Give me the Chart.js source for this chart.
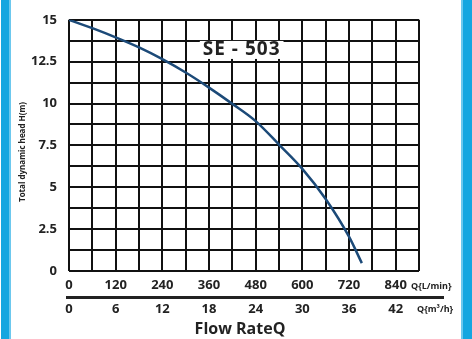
<!DOCTYPE html>
<html><head><meta charset="utf-8">
<script src="https://cdn.jsdelivr.net/npm/chart.js@4"></script>
<style>html,body{margin:0;padding:0;background:#fff}canvas{display:block}</style>
</head><body><canvas id="c" width="472" height="339"></canvas>
<script>
const flowLpm = [0, 60, 120, 180, 240, 300, 360, 420, 480, 540, 600, 660, 720, 753];
const headM   = [15, 14.5, 13.95, 13.35, 12.65, 11.85, 10.95, 9.98, 8.95, 7.55, 6.1, 4.3, 2.05, 0.47];
const lpmTicks = [0, 120, 240, 360, 480, 600, 720, 840];
const m3hTicks = ['0', '6', '12', '18', '24', '30', '36', '42'];
const headTicks = [0, 2.5, 5, 7.5, 10, 12.5, 15];
const chartTitle = 'SE - 503';
const yTitle = 'Total dynamic head H(m)';
const xTitle = 'Flow RateQ';
const unitLpm = 'Q{L/min}';
const unitM3h = 'Q{m³/h}';

const FONT = "'Open Sans', sans-serif";
const TXT = '#222';

const deco = {
  id: 'deco',
  beforeDraw(chart) {
    const ctx = chart.ctx;
    ctx.save();
    ctx.fillStyle = '#fff';
    ctx.fillRect(0, 0, chart.width, chart.height);
    ctx.fillStyle = '#15a6e0';
    ctx.fillRect(1, 0, 8, chart.height);
    ctx.fillStyle = '#6cc8ee';
    ctx.fillRect(9, 0, 2, chart.height);
    ctx.fillRect(461, 0, 2, chart.height);
    ctx.fillStyle = '#15a6e0';
    ctx.fillRect(463, 0, 9, chart.height);
    ctx.restore();
  },
  afterDatasetsDraw(chart) {
    const ctx = chart.ctx;
    const xs = chart.scales.x, ys = chart.scales.y;
    ctx.save();
    ctx.font = "bold 19px " + FONT;
    ctx.letterSpacing = '1px';
    const w = ctx.measureText(chartTitle).width;
    const cx = xs.getPixelForValue(444), cy = ys.getPixelForValue(13.2);
    ctx.fillStyle = '#fff';
    ctx.fillRect(cx - w / 2 - 3, cy - 9, w + 6, 18);
    ctx.fillStyle = TXT;
    ctx.textAlign = 'center';
    ctx.textBaseline = 'middle';
    ctx.fillText(chartTitle, cx, cy);
    ctx.restore();
  },
  afterDraw(chart) {
    const ctx = chart.ctx;
    const xs = chart.scales.x;
    ctx.save();
    ctx.fillStyle = '#222';
    ctx.fillRect(66, xs.bottom, 378, 3);
    ctx.fillStyle = TXT;
    ctx.textAlign = 'left';
    ctx.textBaseline = 'middle';
    ctx.font = "bold 9px " + FONT;
    ctx.fillText(unitLpm, 411, 286);
    ctx.fillText(unitM3h, 417, 309);
    ctx.textAlign = 'center';
    ctx.font = "bold 16px " + FONT;
    ctx.fillText(xTitle, 240, 329);
    ctx.translate(23, 152);
    ctx.rotate(-Math.PI / 2);
    ctx.font = "bold 8px " + FONT;
    ctx.fillText(yTitle, 0, 0);
    ctx.restore();
  }
};

const isTick = (arr, v) => arr.some(t => Math.abs(t - v) < 1e-6);

new Chart(document.getElementById('c'), {
  type: 'line',
  data: {
    datasets: [{
      data: flowLpm.map((q, i) => ({ x: q, y: headM[i] })),
      borderColor: '#1c4a78',
      borderWidth: 2.5,
      pointRadius: 0,
      fill: false,
      cubicInterpolationMode: 'monotone',
      xAxisID: 'x',
      yAxisID: 'y'
    }]
  },
  options: {
    responsive: false,
    animation: false,
    devicePixelRatio: 1,
    layout: { padding: { left: 0, top: 18, right: 53, bottom: 0 } },
    plugins: { legend: { display: false }, title: { display: false }, tooltip: { enabled: false } },
    scales: {
      x: {
        type: 'linear', position: 'bottom', weight: 1, min: 0, max: 900,
        ticks: {
          stepSize: 60, autoSkip: false, maxRotation: 0, padding: 6, color: TXT,
          font: { family: FONT, size: 13, weight: 'bold' },
          callback: v => isTick(lpmTicks, v) ? String(v) : ''
        },
        grid: { color: '#111', lineWidth: 2, drawTicks: false },
        border: { display: false },
        afterFit: s => { s.height = 25; }
      },
      x2: {
        type: 'linear', position: 'bottom', weight: 2, min: 0, max: 900,
        ticks: {
          stepSize: 60, autoSkip: false, maxRotation: 0, padding: 5, color: TXT,
          font: { family: FONT, size: 13, weight: 'bold' },
          callback: v => { const i = lpmTicks.findIndex(t => Math.abs(t - v) < 1e-6); return i >= 0 ? m3hTicks[i] : ''; }
        },
        grid: { display: false, drawTicks: false },
        border: { display: false },
        afterFit: s => { s.height = 43; }
      },
      y: {
        min: 0, max: 15,
        ticks: {
          stepSize: 1.25, autoSkip: false, padding: 12, color: TXT,
          font: { family: FONT, size: 13, weight: 'bold' },
          callback: v => isTick(headTicks, v) ? String(v) : ''
        },
        grid: { color: '#111', lineWidth: 2, drawTicks: false },
        border: { display: false },
        afterFit: s => { s.width = 69; }
      }
    }
  },
  plugins: [deco]
});
</script>
</body></html>
